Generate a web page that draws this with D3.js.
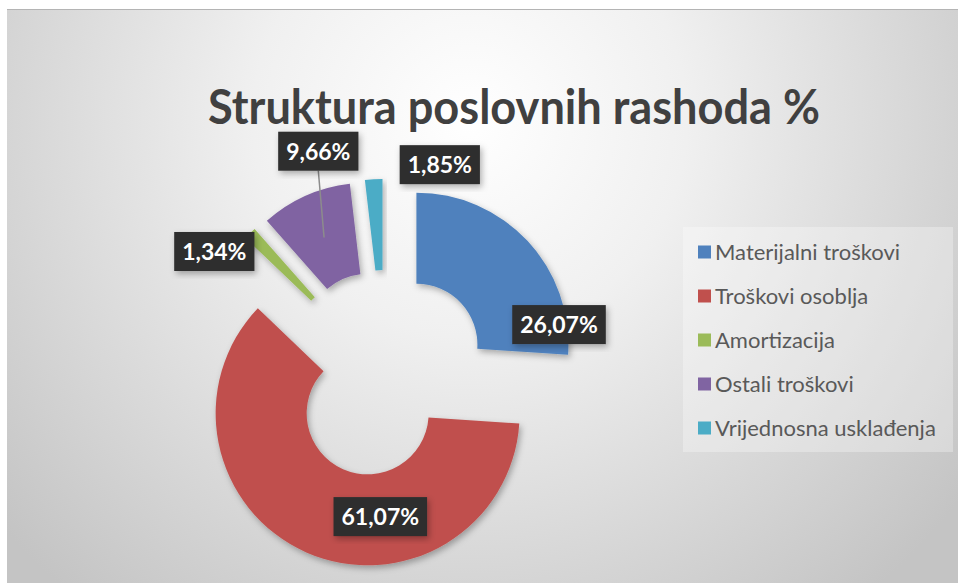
<!DOCTYPE html>
<html lang="hr">
<head>
<meta charset="UTF-8">
<title>Struktura poslovnih rashoda %</title>
<script src="https://d3js.org/d3.v7.min.js"></script>
<style>
  html, body { margin: 0; padding: 0; background: #fff; }
  svg { display: block; }
</style>
</head>
<body>
<div id="chart"></div>
<script>
// data
const categories = ["Materijalni troškovi", "Troškovi osoblja", "Amortizacija", "Ostali troškovi", "Vrijednosna usklađenja"];
const shares = [26.07, 61.07, 1.34, 9.66, 1.85];
const labels = ["26,07%", "61,07%", "1,34%", "9,66%", "1,85%"];
const colors = ["#4f81bd", "#c0504d", "#9bbb59", "#8064a2", "#4bacc6"];

// where each label box sits, relative to its (exploded) slice: angle in degrees, distance in px
const labelPlace = [
    { angle: 82, dist: 144, leader: false },
    { angle: 173, dist: 104, leader: false },
    { angle: 303, dist: 168, leader: false },
    { angle: 345, dist: 190, leader: true },
    { angle: 19, dist: 176, leader: false }
];

const width = 958, height = 583;
const cx = 385, cy = 374;
const outerR = 152, innerR = 61, explode = 43;

const svg = d3.select("#chart").append("svg")
    .attr("width", width)
    .attr("height", height);

const defs = svg.append("defs");

const bg = defs.append("radialGradient")
    .attr("id", "bg")
    .attr("gradientUnits", "userSpaceOnUse")
    .attr("cx", 470).attr("cy", 120)
    .attr("r", 620);
bg.append("stop").attr("offset", "0%").attr("stop-color", "#ffffff");
bg.append("stop").attr("offset", "35%").attr("stop-color", "#f0f0f0");
bg.append("stop").attr("offset", "100%").attr("stop-color", "#c4c4c4");

const shadow = defs.append("filter")
    .attr("id", "shadow")
    .attr("x", "-20%").attr("y", "-20%")
    .attr("width", "140%").attr("height", "140%");
shadow.append("feDropShadow")
    .attr("dx", 2).attr("dy", 3)
    .attr("stdDeviation", 3)
    .attr("flood-color", "#000")
    .attr("flood-opacity", 0.3);

// chart area
svg.append("rect")
    .attr("x", 7).attr("y", 9)
    .attr("width", width - 7).attr("height", height - 9)
    .attr("fill", "url(#bg)");
svg.append("line")
    .attr("x1", 7).attr("x2", width)
    .attr("y1", 9.5).attr("y2", 9.5)
    .attr("stroke", "#b4b4b4")
    .attr("stroke-width", 1);

// title
svg.append("text")
    .attr("x", 514)
    .attr("y", 124)
    .attr("text-anchor", "middle")
    .attr("textLength", 612)
    .attr("lengthAdjust", "spacingAndGlyphs")
    .style("font-family", "Lato, 'Open Sans', sans-serif")
    .style("font-weight", "bold")
    .style("font-size", "47px")
    .style("fill", "#404040")
    .text("Struktura poslovnih rashoda %");

// donut
const pie = d3.pie()
    .sort(null)
    .value(d => d);

const arc = d3.arc()
    .innerRadius(innerR)
    .outerRadius(outerR);

const arcsData = pie(shares);

function offsetOf(d) {
    const mid = (d.startAngle + d.endAngle) / 2;
    return [explode * Math.sin(mid), -explode * Math.cos(mid)];
}

const g = svg.append("g")
    .attr("transform", "translate(" + cx + "," + cy + ")");

g.selectAll("path.slice")
    .data(arcsData)
    .enter().append("path")
    .attr("class", "slice")
    .attr("d", arc)
    .attr("transform", d => "translate(" + offsetOf(d) + ")")
    .attr("fill", (d, i) => colors[i])
    .attr("filter", "url(#shadow)");

// data labels
const labelG = g.selectAll("g.label")
    .data(arcsData)
    .enter().append("g")
    .attr("class", "label");

labelG.each(function (d, i) {
    const el = d3.select(this);
    const off = offsetOf(d);
    const p = labelPlace[i];
    const a = p.angle * Math.PI / 180;
    const lx = off[0] + p.dist * Math.sin(a);
    const ly = off[1] - p.dist * Math.cos(a);
    const boxH = 39;

    const txt = el.append("text")
        .attr("x", lx)
        .attr("y", ly)
        .attr("dy", "0.36em")
        .attr("text-anchor", "middle")
        .style("font-family", "Lato, 'Open Sans', sans-serif")
        .style("font-weight", "bold")
        .style("font-size", "23px")
        .style("fill", "#ffffff")
        .text(labels[i]);
    const bb = txt.node().getBBox();
    const boxW = bb.width + 16;

    if (p.leader) {
        const c = arc.centroid(d);
        el.insert("line", "text")
            .attr("x1", c[0] + off[0])
            .attr("y1", c[1] + off[1])
            .attr("x2", lx)
            .attr("y2", ly + boxH / 2)
            .attr("stroke", "#8c8c8c")
            .attr("stroke-width", 1.5);
    }

    el.insert("rect", "text")
        .attr("x", lx - boxW / 2)
        .attr("y", ly - boxH / 2)
        .attr("width", boxW)
        .attr("height", boxH)
        .attr("fill", "#2f2f2f")
        .attr("filter", "url(#shadow)");
});

// legend
const legendY = d3.scalePoint()
    .domain(categories)
    .range([252, 428]);

svg.append("rect")
    .attr("x", 683).attr("y", 227)
    .attr("width", 270).attr("height", 225)
    .attr("fill", "#ffffff")
    .attr("fill-opacity", 0.3);

const legend = svg.append("g")
    .selectAll("g")
    .data(categories)
    .enter().append("g")
    .attr("transform", d => "translate(698," + legendY(d) + ")");

legend.append("rect")
    .attr("x", 0)
    .attr("y", -6.5)
    .attr("width", 13)
    .attr("height", 13)
    .attr("fill", (d, i) => colors[i]);

legend.append("text")
    .attr("x", 17)
    .attr("y", 0)
    .attr("dy", "0.35em")
    .style("font-family", "Lato, 'Open Sans', sans-serif")
    .style("font-size", "22px")
    .style("fill", "#595959")
    .text(d => d);
</script>
</body>
</html>
